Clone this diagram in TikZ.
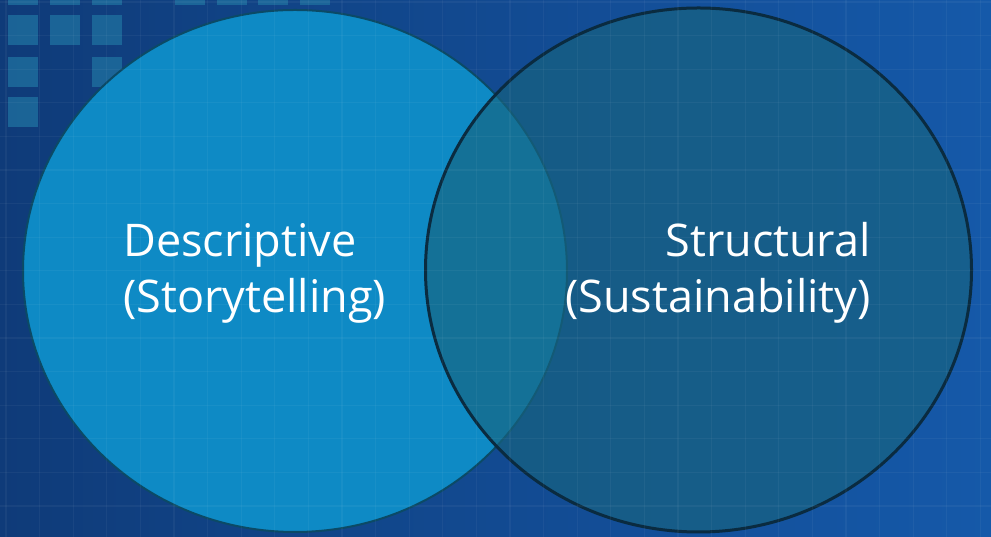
\documentclass[tikz,border=0pt]{standalone}
\usepackage{fontspec}
\setmainfont{Open Sans}
\definecolor{bgL}{HTML}{0F3B79}
\definecolor{bgR}{HTML}{1559A9}
\definecolor{sq}{HTML}{1E6E9E}
\definecolor{leftfill}{HTML}{0E8AC5}
\definecolor{leftedge}{HTML}{0B4A66}
\definecolor{rightfill}{HTML}{18647F}
\definecolor{rightedge}{HTML}{0A2B40}
\tikzset{
  gridline/.style={draw=white, opacity=0.045, line width=1.2pt},
  tile/.style={fill=sq, opacity=0.8},
  setA/.style={fill=leftfill, draw=leftedge, line width=2pt},
  setB/.style={fill=rightfill, fill opacity=0.65, draw=rightedge, draw opacity=1, line width=3pt},
  label/.style={text=white, font=\fontsize{45}{56}\selectfont, inner sep=0pt},
}
\begin{document}
\begin{tikzpicture}[x=1pt,y=1pt]
\useasboundingbox (0,0) rectangle (991,537);
\shade[left color=bgL, right color=bgR] (0,0) rectangle (991,537);
% tiles (top-left)
\foreach \x/\y in {8/-25,50/-25,92/-25,175/-25,217/-25,258/-25,300/-25,8/15,50/15,92/15,8/57,92/57,8/97}
  \fill[tile] (\x,537-\y) rectangle ++(30,-30);
% circles
\path[setA] (295,266) ellipse [x radius=272, y radius=261];
\path[setB] (698.5,267) ellipse [x radius=273, y radius=262];
% grid overlay
\foreach \x in {0,...,29} \draw[gridline] (6+33.6*\x,0) -- (6+33.6*\x,537);
\foreach \y in {0,...,16} \draw[gridline] (0,535-33.6*\y) -- (991,535-33.6*\y);
% labels
\node[label, anchor=base west, align=left] (desc) at (123,224) {Descriptive\\(Storytelling)};
\node[label, anchor=base east, align=right] (struct) at (871,224) {Structural\\(Sustainability)};
\end{tikzpicture}
\end{document}
